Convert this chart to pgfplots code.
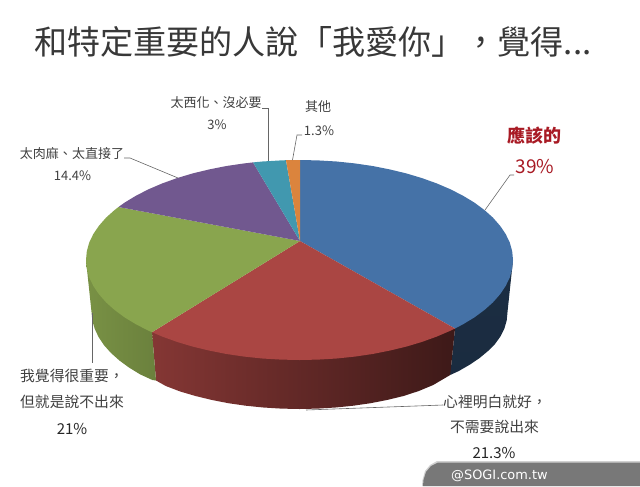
\documentclass[border=0pt]{standalone}
\usepackage{fontspec}
\usepackage{pgfplots}
\pgfplotsset{compat=1.18}
\setmainfont{Noto Sans CJK TC}
\newfontfamily\webfont{DejaVu Sans}

\definecolor{cblue}{HTML}{4572A7}
\definecolor{cred}{HTML}{AA4643}
\definecolor{cgreen}{HTML}{89A54E}
\definecolor{cpurple}{HTML}{71588F}
\definecolor{cteal}{HTML}{4198AF}
\definecolor{corange}{HTML}{DB843D}
\definecolor{labeltxt}{HTML}{404040}
\definecolor{leader}{HTML}{666666}
\definecolor{redlabel}{HTML}{A81A24}
\definecolor{footer}{HTML}{787878}

\newcommand{\fs}[1]{\fontsize{#1bp}{#1bp}\selectfont}

\begin{document}
\begin{tikzpicture}
\begin{axis}[
    hide axis,
    scale only axis,
    width=640bp,
    height=486bp,
    xmin=0, xmax=640,
    ymin=0, ymax=486,
    y dir=reverse,
    clip=false,
    every axis plot/.append style={no markers, forget plot},
]
\path (axis cs:0,0) rectangle (axis cs:640,486);

% sides (the top wedges are drawn over their upper edge)
\addplot[draw=none, fill=black!0, top color=cblue!40!black, bottom color=cblue!38!black] coordinates {
 (513,260) (455,328.5) (450.2,375) (458.8,371) (469.9,364.6) (479.6,358) (488,351)
 (495,344) (500.4,336.5) (504.3,328.8) (506.7,320.5) (507.5,312) (513,260)};
\addplot[draw=none, left color=cred!78!black, middle color=cred!52!black, right color=cred!36!black] coordinates {
 (455,328.5) (152,332.2) (156,380.5) (165.8,386) (180.2,391.5) (195.5,396) (211.6,399.9) (228.4,403.2)
 (245.7,405.7) (263.4,407.5) (281.4,408.6) (299.5,409) (317.6,408.6) (335.6,407.5) (353.3,405.7)
 (370.6,403.2) (387.4,399.9) (403.5,396) (418.8,391) (433.2,385) (450.2,375) (455,328.5)};
\addplot[draw=none, left color=cgreen!88!black, right color=cgreen!78!black] coordinates {
 (152,332.2) (86,260) (91.5,312) (92.3,320.5) (94.7,328.8) (98.6,337.1) (104,345.2) (111,353)
 (119.4,360.5) (129.1,367.6) (140.2,374.4) (152.4,380) (156,380.5) (152,332.2)};

% top face
\addplot[draw=none, fill=cblue] coordinates {
 (300,241) (300,160) (318.1,160.4) (336.6,161.5) (354.8,163.4) (372.5,166) (389.7,169.4) (406.3,173.4)
 (422,178.1) (436.7,183.4) (450.5,189.3) (463,195.7) (474.4,202.6) (484.4,210) (493,217.7) (500.1,225.8)
 (505.7,234.1) (509.8,242.6) (512.2,251.3) (513,260) (512.2,268.7) (509.8,277.4) (505.7,285.9) (500.1,294.2)
 (493,302.3) (484.4,310) (474.4,317.4) (463,324.3) (455,328.5) (300,241)};
\addplot[draw=none, fill=cred] coordinates {
 (300,241) (455,328.5) (450.5,330.7) (436.7,336.6) (422,341.9) (406.3,346.6) (389.7,350.6) (372.5,354)
 (354.8,356.6) (336.6,358.5) (318.1,359.6) (299.5,360) (280.9,359.6) (262.4,358.5) (244.2,356.6) (226.5,354)
 (209.3,350.6) (192.7,346.6) (177,341.9) (162.3,336.6) (152,332.2) (300,241)};
\addplot[draw=none, fill=cgreen] coordinates {
 (300,241) (152,332.2) (148.5,330.7) (136,324.3) (124.6,317.4) (114.6,310) (106,302.3) (98.9,294.2)
 (93.3,285.9) (89.2,277.4) (86.8,268.7) (86,260) (86.8,251.3) (89.2,242.6) (93.3,234.1) (98.9,225.8)
 (106,217.7) (114.6,210) (118.5,207) (300,241)};
\addplot[draw=none, fill=cpurple] coordinates {
 (300,241) (118.5,207) (124.6,202.6) (136,195.7) (148.5,189.3) (162.3,183.4) (177,178.1) (192.7,173.4)
 (209.3,169.4) (226.5,166) (244.2,163.4) (253,162.4) (300,241)};
\addplot[draw=none, fill=cteal] coordinates {
 (300,241) (253,162.4) (262.4,161.5) (280.9,160.4) (286,160.2) (300,241)};
\addplot[draw=none, fill=corange] coordinates {
 (300,241) (286,160.2) (293,160.05) (300,160) (300,241)};

% leader lines
\addplot[leader, line width=0.6pt] coordinates {(485,210) (510,175) (514,175)};
\addplot[leader, line width=0.6pt] coordinates {(262,108) (268.5,108) (268.5,161)};
\addplot[leader, line width=0.6pt] coordinates {(292.5,160) (297,135) (302,135)};
\addplot[leader, line width=0.6pt] coordinates {(124,158) (130,158) (178,178)};
\addplot[leader, line width=0.6pt] coordinates {(92,313) (92,363)};
\addplot[leader, line width=0.6pt] coordinates {(443,405) (306,410)};

% footer tab
\addplot[draw=none, fill=black!18] coordinates {
 (422,486) (422.5,480) (425,471) (430,465) (437,461) (640,461) (640,486)};
\addplot[draw=none, fill=footer] coordinates {
 (423,486) (423.5,480) (426,472) (431,466) (438,462.5) (640,462.5) (640,486)};

% text
\node[anchor=west, text=black!78, inner sep=0pt] at (axis cs:34,42) {\fs{33.1}和特定重要的人說「我愛你」，覺得...};

\node[text=redlabel, inner sep=0pt] at (axis cs:534,136) {\fs{18}\bfseries 應該的};
\node[text=redlabel, inner sep=0pt] at (axis cs:535,167) {\fs{19}39\%};

\node[text=labeltxt, inner sep=0pt] at (axis cs:216,103) {\fs{13}太西化、沒必要};
\node[text=labeltxt, inner sep=0pt] at (axis cs:217,125) {\fs{13}3\%};
\node[text=labeltxt, inner sep=0pt] at (axis cs:318,107) {\fs{13}其他};
\node[text=labeltxt, inner sep=0pt] at (axis cs:319,131) {\fs{13}1.3\%};
\node[text=labeltxt, inner sep=0pt] at (axis cs:72,154) {\fs{13}太肉麻、太直接了};
\node[text=labeltxt, inner sep=0pt] at (axis cs:72.5,176) {\fs{13}14.4\%};

\node[text=labeltxt, inner sep=0pt, anchor=west] at (axis cs:20,376) {\fs{14.8}我覺得很重要，};
\node[text=labeltxt, inner sep=0pt, anchor=west] at (axis cs:20,402) {\fs{14.8}但就是說不出來};
\node[text=black!85, inner sep=0pt] at (axis cs:72,429) {\fs{15}21\%};

\node[text=labeltxt, inner sep=0pt, anchor=west] at (axis cs:443,402) {\fs{14.8}心裡明白就好，};
\node[text=labeltxt, inner sep=0pt] at (axis cs:494.5,427) {\fs{14.8}不需要說出來};
\node[text=black!85, inner sep=0pt] at (axis cs:494,453) {\fs{15}21.3\%};

\node[text=white, inner sep=0pt, anchor=west] at (axis cs:451,476) {\webfont\fs{12.9}@SOGI.com.tw};
\end{axis}
\end{tikzpicture}
\end{document}
